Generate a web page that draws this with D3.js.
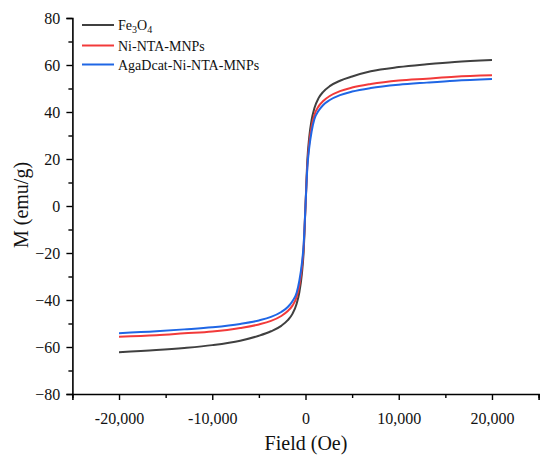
<!DOCTYPE html>
<html><head><meta charset="utf-8">
<script src="https://cdn.jsdelivr.net/npm/d3@7"></script>
<style>body{margin:0;background:#fff}svg{display:block}</style>
</head><body>
<svg id="c" width="550" height="458"></svg>
<script>
const fields = [-20000,-16000,-13000,-10000,-7000,-5000,-3700,-2600,-1900,-1400,-950,-650,-400,-200,0,200,400,650,950,1400,1900,2600,3700,5000,7000,10000,13000,16000,20000];
const fe3o4 = [-62.2,-61.3,-60.4,-59.2,-57.3,-55.2,-53.3,-51.0,-48.6,-45.9,-41.6,-36.5,-29.3,-19.6,0,19.6,29.3,36.5,41.6,45.9,48.6,51.0,53.3,55.1,57.3,59.1,60.3,61.3,62.1];
const niNta = [-55.6,-55.0,-54.2,-53.4,-51.9,-50.4,-48.9,-46.8,-44.7,-42.4,-38.7,-33.6,-26.7,-17.5,0,17.5,26.7,33.6,38.7,42.4,44.7,46.8,48.9,50.4,51.9,53.4,54.2,55.0,55.6];
const agadcat = [-54.1,-53.3,-52.5,-51.6,-50.2,-48.7,-47.2,-45.1,-43.0,-40.5,-36.9,-31.6,-24.8,-16.5,0,16.5,24.8,31.6,36.9,40.5,43.0,45.1,47.2,48.7,50.2,51.6,52.5,53.3,54.0];
const seriesNames = ["Fe3O4","Ni-NTA-MNPs","AgaDcat-Ni-NTA-MNPs"];
const xTicks = [-20000,-10000,0,10000,20000];
const yTicks = [-80,-60,-40,-20,0,20,40,60,80];

const colors = ["#404040","#f23a3a","#1f66e5"];
const svg = d3.select("#c");
const font = "'Liberation Serif','Times New Roman',serif";
const x = d3.scaleLinear().domain([-25000,25000]).range([72.4,538.6]);
const y = d3.scaleLinear().domain([-80,80]).range([394,18]);

const series = [fe3o4, niNta, agadcat];
const line = d3.line().x(d=>x(d[0])).y(d=>y(d[1])).curve(d3.curveMonotoneX);
series.forEach((vals,i)=>{
  svg.append("path").datum(fields.map((f,j)=>[f,vals[j]]))
    .attr("d",line).attr("fill","none").attr("stroke",colors[i]).attr("stroke-width",2);
});

const comma = d3.format(",");
// x axis
const xa = svg.append("g").attr("transform","translate(0,394)");
xa.call(d3.axisBottom(x).tickValues(xTicks).tickFormat(d=>(d<0?"-":"")+comma(Math.abs(d))).tickSizeOuter(0).tickSize(6));
xa.append("g").call(d3.axisBottom(x).tickValues([-25000,-15000,-5000,5000,15000,25000]).tickFormat("").tickSize(4).tickSizeOuter(0)).select(".domain").remove();
// y axis
const ya = svg.append("g").attr("transform","translate(72.4,0)");
ya.call(d3.axisLeft(y).tickValues(yTicks).tickFormat(d=>d<0?"\u2212"+Math.abs(d):d).tickSizeOuter(0).tickSize(6));
ya.append("g").call(d3.axisLeft(y).tickValues([-70,-50,-30,-10,10,30,50,70]).tickFormat("").tickSize(4).tickSizeOuter(0)).select(".domain").remove();
svg.selectAll(".domain").attr("stroke","#000").attr("stroke-width",1.6);
svg.selectAll(".tick line").attr("stroke","#000").attr("stroke-width",1.4);
svg.selectAll(".tick text").attr("font-family",font).attr("font-size",16).attr("fill","#111");
xa.selectAll(".tick text").attr("dy","1.3em");
ya.selectAll(".tick text").attr("dx","-0.2em");

svg.append("text").attr("x",306).attr("y",450).attr("text-anchor","middle")
  .attr("font-family",font).attr("font-size",20).attr("fill","#111").text("Field (Oe)");
svg.append("text").attr("transform","translate(28,205) rotate(-90)").attr("text-anchor","middle")
  .attr("font-family",font).attr("font-size",20).attr("fill","#111").text("M (emu/g)");

// legend
const ly = [25,45.5,64.5];
seriesNames.forEach((n,i)=>{
  svg.append("line").attr("x1",82).attr("x2",114).attr("y1",ly[i]).attr("y2",ly[i]).attr("stroke",colors[i]).attr("stroke-width",2);
  const t = svg.append("text").attr("x",118).attr("y",ly[i]+5).attr("font-family",font).attr("font-size",14).attr("fill","#111");
  if(n==="Fe3O4"){
    t.append("tspan").text("Fe");
    t.append("tspan").attr("font-size",10).attr("dy",3).text("3");
    t.append("tspan").attr("dy",-3).text("O");
    t.append("tspan").attr("font-size",10).attr("dy",3).text("4");
  } else t.text(n);
});
</script>
</body></html>
